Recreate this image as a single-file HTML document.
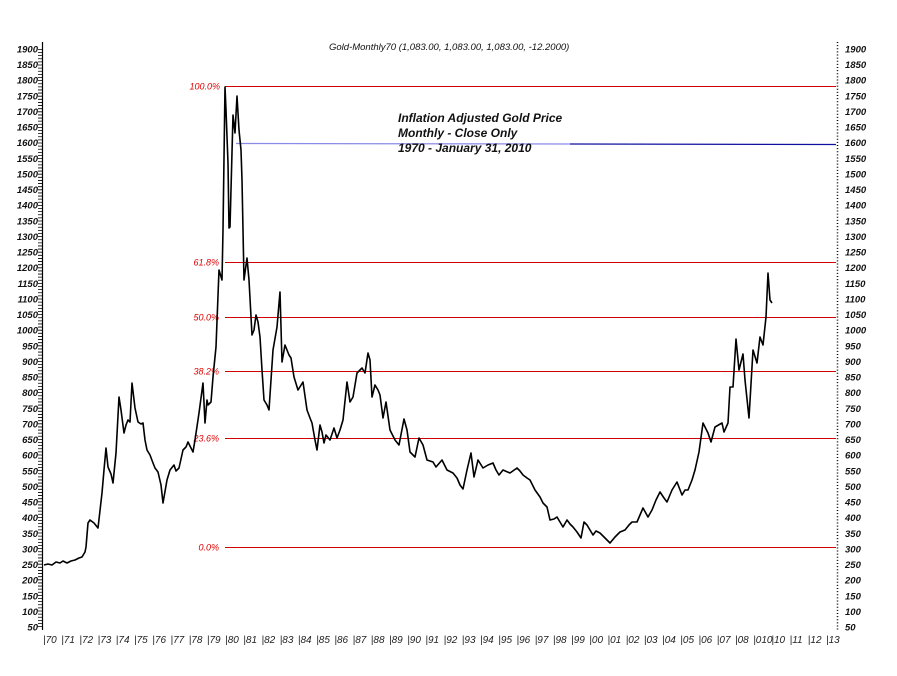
<!DOCTYPE html>
<html><head><meta charset="utf-8"><style>
html,body{margin:0;padding:0;background:#fff;}
svg{display:block;}
text{font-family:"Liberation Sans",sans-serif;font-style:italic;}
.yl{font-size:9.5px;font-weight:bold;fill:#111;}
.xl{font-size:10px;fill:#222;}
.pl{font-size:9px;fill:#e00000;}
</style></head><body>
<svg width="897" height="676" viewBox="0 0 897 676" xmlns="http://www.w3.org/2000/svg">
<rect width="897" height="676" fill="#fff"/>
<text x="329" y="50" font-size="9.5" fill="#111">Gold-Monthly70 (1,083.00, 1,083.00, 1,083.00, -12.2000)</text>
<!-- axes -->
<line x1="42.5" y1="42" x2="42.5" y2="630" stroke="#000" stroke-width="1.2"/>
<line x1="40" y1="49" x2="40" y2="628" stroke="#000" stroke-width="4" stroke-dasharray="0.8 2.32"/>
<line x1="837.5" y1="42" x2="837.5" y2="630" stroke="#000" stroke-width="1.5" stroke-dasharray="1 2.12"/>
<!-- fib lines -->
<g fill="#d00000" shape-rendering="crispEdges">
<rect x="225" y="86" width="611" height="1"/>
<rect x="225" y="262" width="611" height="1"/>
<rect x="225" y="317" width="611" height="1"/>
<rect x="225" y="371" width="611" height="1"/>
<rect x="225" y="438" width="611" height="1"/>
<rect x="225" y="547" width="611" height="1"/>
</g>
<g class="pl" text-anchor="end">
<text x="220" y="89.5">100.0%</text>
<text x="219" y="265.5">61.8%</text>
<text x="219" y="320.5">50.0%</text>
<text x="219" y="374.5">38.2%</text>
<text x="219" y="441.5">23.6%</text>
<text x="219" y="550.5">0.0%</text>
</g>
<line x1="236" y1="143.5" x2="570" y2="144" stroke="#8a8ae8" stroke-width="1.2"/>
<line x1="570" y1="144" x2="836" y2="144.5" stroke="#1010a0" stroke-width="1.2"/>
<g font-size="12" fill="#111" style="font-weight:600">
<text x="398" y="122">Inflation Adjusted Gold Price</text>
<text x="398" y="137">Monthly - Close Only</text>
<text x="398" y="152">1970 - January 31, 2010</text>
</g>
<!-- series -->
<polyline fill="none" stroke="#000" stroke-width="1.6" stroke-linejoin="round" points="
44,565 48,564 52,565 56,562 60,563 63,561 67,563 71,561 75,560 79,558 82,557 85,552 86,547 88,523 90,520 94,523 98,528 102,493 104,470 106,448 108,467 111,474 113,483 116,453 119,397 121,410 124,433 126,425 128,420 130,422 132,383 135,408 138,422 141,424 143,423 145,440 147,450 150,455 153,463 155,468 158,472 161,485 163,503 167,480 170,470 174,465 176,471 179,468 183,450 186,447 188,442 191,448 193,452 195,440 199,413 201,398 203,383 205,423 207,400 208,405 211,402 213,377 216,347 219,270 222,280 223,230 225,87 226,110 228,163 229,228 230,227 233,115 235,133 237,96 239,130 241,150 242,180 244,280 247,258 249,280 252,335 254,330 256,315 258,322 260,337 262,370 264,400 267,405 269,410 273,350 277,327 280,292 282,362 285,345 289,355 291,358 294,377 298,390 303,382 307,410 310,418 312,423 315,440 317,450 320,425
 322,432 324,443 326,435 330,440 334,428 337,438 340,430 343,420 347,382 350,402 353,397 357,373 362,368 365,373 368,353 370,360 372,397 375,385 378,390 380,395 383,418 386,402 390,430 395,440 399,445 404,419 407,430 410,452 415,457 419,438 423,445 427,460 433,462 436,467 442,460 447,470 453,473 457,478 460,485 463,489 467,470 471,453 474,477 478,460 483,468 488,465 493,463 496,470 499,475 503,470 510,473 517,468 520,471 523,475 527,478 530,480 535,490 540,497 543,503 547,507 550,520 554,519 557,517 560,522 563,527 567,520 570,524 573,527 577,532 581,538 584,522 587,525 590,530 593,535 596,531 600,533 605,538 610,543 615,537 620,532 625,530 629,525 632,522 637,522 640,515 643,508 648,517 652,510 656,500 660,492 664,498 667,502 672,490 677,482 682,495 685,490 688,490 692,480 695,470 699,452 703,423 708,433 711,442 715,427 722,423 724,432 728,423 730,387 733,387 736,339 739,370 743,354 745,380 749,418 753,350 757,363 760,337 763,345 766,317 768,273 770,300 772,303"/>
<!-- left labels -->
<g class="yl" text-anchor="end">
<text x="38" y="52.5">1900</text><text x="38" y="68.1">1850</text><text x="38" y="83.7">1800</text><text x="38" y="99.4">1750</text><text x="38" y="115">1700</text><text x="38" y="130.6">1650</text><text x="38" y="146.2">1600</text><text x="38" y="161.9">1550</text><text x="38" y="177.5">1500</text><text x="38" y="193.1">1450</text><text x="38" y="208.7">1400</text><text x="38" y="224.3">1350</text><text x="38" y="240">1300</text><text x="38" y="255.6">1250</text><text x="38" y="271.2">1200</text><text x="38" y="286.8">1150</text><text x="38" y="302.5">1100</text><text x="38" y="318.1">1050</text><text x="38" y="333.7">1000</text><text x="38" y="349.3">950</text><text x="38" y="365">900</text><text x="38" y="380.6">850</text><text x="38" y="396.2">800</text><text x="38" y="411.8">750</text><text x="38" y="427.4">700</text><text x="38" y="443.1">650</text><text x="38" y="458.7">600</text><text x="38" y="474.3">550</text><text x="38" y="489.9">500</text><text x="38" y="505.6">450</text><text x="38" y="521.2">400</text><text x="38" y="536.8">350</text><text x="38" y="552.4">300</text><text x="38" y="568.1">250</text><text x="38" y="583.7">200</text><text x="38" y="599.3">150</text><text x="38" y="614.9">100</text><text x="38" y="630.5">50</text>
</g>
<g class="yl">
<text x="845" y="52.5">1900</text><text x="845" y="68.1">1850</text><text x="845" y="83.7">1800</text><text x="845" y="99.4">1750</text><text x="845" y="115">1700</text><text x="845" y="130.6">1650</text><text x="845" y="146.2">1600</text><text x="845" y="161.9">1550</text><text x="845" y="177.5">1500</text><text x="845" y="193.1">1450</text><text x="845" y="208.7">1400</text><text x="845" y="224.3">1350</text><text x="845" y="240">1300</text><text x="845" y="255.6">1250</text><text x="845" y="271.2">1200</text><text x="845" y="286.8">1150</text><text x="845" y="302.5">1100</text><text x="845" y="318.1">1050</text><text x="845" y="333.7">1000</text><text x="845" y="349.3">950</text><text x="845" y="365">900</text><text x="845" y="380.6">850</text><text x="845" y="396.2">800</text><text x="845" y="411.8">750</text><text x="845" y="427.4">700</text><text x="845" y="443.1">650</text><text x="845" y="458.7">600</text><text x="845" y="474.3">550</text><text x="845" y="489.9">500</text><text x="845" y="505.6">450</text><text x="845" y="521.2">400</text><text x="845" y="536.8">350</text><text x="845" y="552.4">300</text><text x="845" y="568.1">250</text><text x="845" y="583.7">200</text><text x="845" y="599.3">150</text><text x="845" y="614.9">100</text><text x="845" y="630.5">50</text>
</g>
<!-- x labels -->
<g class="xl">
<text x="43" y="643">|70</text><text x="61.2" y="643">|71</text><text x="79.4" y="643">|72</text><text x="97.6" y="643">|73</text><text x="115.8" y="643">|74</text><text x="134" y="643">|75</text><text x="152.3" y="643">|76</text><text x="170.5" y="643">|77</text><text x="188.7" y="643">|78</text><text x="206.9" y="643">|79</text><text x="225.1" y="643">|80</text><text x="243.3" y="643">|81</text><text x="261.5" y="643">|82</text><text x="279.7" y="643">|83</text><text x="297.9" y="643">|84</text><text x="316.2" y="643">|85</text><text x="334.4" y="643">|86</text><text x="352.6" y="643">|87</text><text x="370.8" y="643">|88</text><text x="389" y="643">|89</text><text x="407.2" y="643">|90</text><text x="425.4" y="643">|91</text><text x="443.6" y="643">|92</text><text x="461.8" y="643">|93</text><text x="480" y="643">|94</text><text x="498.3" y="643">|95</text><text x="516.5" y="643">|96</text><text x="534.7" y="643">|97</text><text x="552.9" y="643">|98</text><text x="571.1" y="643">|99</text><text x="589.3" y="643">|00</text><text x="607.5" y="643">|01</text><text x="625.7" y="643">|02</text><text x="643.9" y="643">|03</text><text x="662.1" y="643">|04</text><text x="680.3" y="643">|05</text><text x="698.5" y="643">|06</text><text x="716.8" y="643">|07</text><text x="735" y="643">|08</text><text x="753.2" y="643">|010</text><text x="771.4" y="643">|10</text><text x="789.6" y="643">|11</text><text x="807.8" y="643">|12</text><text x="826" y="643">|13</text>
</g>
</svg>
</body></html>
